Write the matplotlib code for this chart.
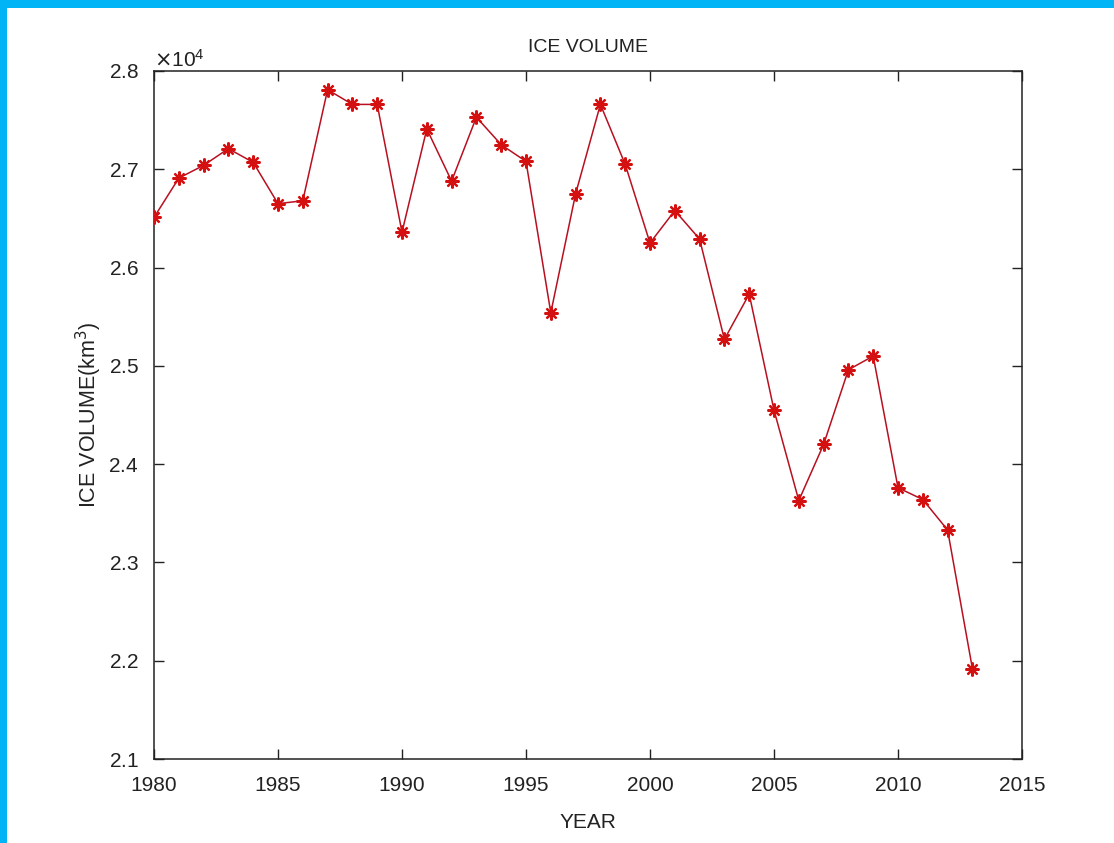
import matplotlib
matplotlib.use("Agg")
import matplotlib.pyplot as plt
import matplotlib.ticker as mticker
from matplotlib.patches import Rectangle

plt.rcParams['font.family'] = ['Liberation Sans', 'DejaVu Sans']

years = list(range(1980, 2014))
ice_volume = [26510, 26910, 27040, 27210, 27070, 26650, 26680, 27810, 27660, 27660,
              26360, 27410, 26880, 27530, 27250, 27080, 25540, 26750, 27660, 27050,
              26250, 26580, 26290, 25270, 25730, 24550, 23630, 24200, 24960, 25100,
              23760, 23640, 23330, 21920]
x_ticks = [1980, 1985, 1990, 1995, 2000, 2005, 2010, 2015]
y_ticks = [21000, 22000, 23000, 24000, 25000, 26000, 27000, 28000]

W, H = 1114, 843
fig = plt.figure(figsize=(W / 100, H / 100), dpi=100)
fig.patch.set_facecolor('white')
blue = '#00B4F5'
fig.add_artist(Rectangle((0, 1 - 8 / H), 1, 8 / H, transform=fig.transFigure,
                         facecolor=blue, edgecolor='none', zorder=10))
fig.add_artist(Rectangle((0, 0), 7 / W, 1, transform=fig.transFigure,
                         facecolor=blue, edgecolor='none', zorder=10))

ax = fig.add_axes([154 / W, 1 - 759 / H, (1022 - 154) / W, (759 - 71) / H])
ax.plot(years, ice_volume, '-', color='#B81020', linewidth=1.1, zorder=2)
ax.plot(years, ice_volume, linestyle='none', marker=(8, 2, 0), markersize=10,
        markeredgewidth=1.6, color='#D41010', zorder=3)

ax.set_xlim(1980, 2015)
ax.set_ylim(21000, 28000)
ax.set_xticks(x_ticks)
ax.set_yticks(y_ticks)
fmt = mticker.ScalarFormatter(useMathText=True)
fmt.set_powerlimits((0, 0))
ax.yaxis.set_major_formatter(fmt)
ax.yaxis.get_offset_text().set_fontsize(15)
ax.yaxis.get_offset_text().set_color('#222222')

ax.tick_params(direction='in', length=7, width=1, labelsize=15,
               top=True, right=True, colors='#222222')
ax.tick_params(axis='x', pad=12)
ax.tick_params(axis='y', pad=11)
for s in ax.spines.values():
    s.set_linewidth(1.1)
    s.set_color('#222222')

ax.set_title('ICE VOLUME', fontsize=14, pad=14, color='#222222')
ax.set_xlabel('YEAR', fontsize=15, labelpad=13, color='#222222')
ax.set_ylabel('ICE VOLUME(km$^3$)', fontsize=15.5, labelpad=3, color='#222222')

fig.savefig('out.png', dpi=100)
